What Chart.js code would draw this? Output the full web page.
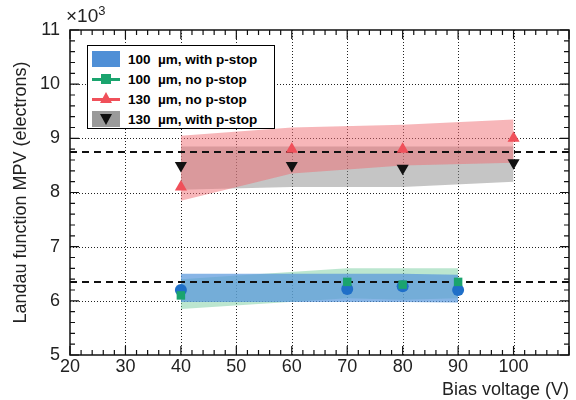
<!DOCTYPE html>
<html>
<head>
<meta charset="utf-8">
<script src="https://cdn.jsdelivr.net/npm/chart.js@4/dist/chart.umd.min.js"></script>
<style>
  body { margin: 0; background: #fff; }
  #wrap { position: relative; width: 576px; height: 400px; }
  #legend {
    position: absolute; left: 87px; top: 45px; width: 188px; height: 84px;
    background: #fff; border: 1.5px solid #000; box-sizing: border-box;
    font-family: "Liberation Sans", Arial, sans-serif; font-weight: bold; font-size: 13.5px;
    padding: 3px 0 0 4px;
  }
  .row { display: flex; align-items: center; height: 20px; white-space: pre; }
  .sw { position: relative; width: 28px; height: 16px; margin-right: 8px; }
  #mult { position: absolute; left: 66px; top: 3px; font-family: "Liberation Sans", Arial, sans-serif; font-size: 19px; color: #222; }
  #mult sup { font-size: 13px; }
</style>
</head>
<body>
<div id="wrap">
  <canvas id="c" width="576" height="400"></canvas>
  <div id="mult">×10<sup>3</sup></div>
  <div id="legend">
    <div class="row"><span class="sw" style="background:#4f8fd6"></span>100  µm, with p-stop</div>
    <div class="row"><span class="sw"><span style="position:absolute;left:0;top:7px;width:28px;height:3px;background:#1aa46e"></span><span style="position:absolute;left:9px;top:3px;width:10px;height:10px;background:#1aa46e"></span></span>100  µm, no p-stop</div>
    <div class="row"><span class="sw"><span style="position:absolute;left:0;top:7px;width:28px;height:3px;background:#f0505a"></span><span style="position:absolute;left:8px;top:1px;width:0;height:0;border-left:6px solid transparent;border-right:6px solid transparent;border-bottom:11px solid #f0505a"></span></span>130  µm, no p-stop</div>
    <div class="row"><span class="sw" style="background:#9a9a9a"><span style="position:absolute;left:8px;top:3px;width:0;height:0;border-left:6px solid transparent;border-right:6px solid transparent;border-top:11px solid #111"></span></span>130  µm, with p-stop</div>
  </div>
</div>
<script>
// voltages (V)
const volts100 = [40, 70, 80, 90];
const volts130 = [40, 60, 80, 100];

// MPV values, x10^3 electrons
const mpv100PStop = [6.2, 6.22, 6.27, 6.2];
const mpv100NoPStop = [6.1, 6.35, 6.3, 6.35];
const mpv130NoPStop = [8.1, 8.8, 8.8, 9.0];
const mpv130PStop = [8.5, 8.5, 8.45, 8.55];

// uncertainty bands (high / low)
const band100PStopHi = [6.5, 6.5, 6.5, 6.48];
const band100PStopLo = [5.98, 5.98, 5.98, 5.97];
const band100NoPStopHi = [6.4, 6.6, 6.6, 6.6];
const band100NoPStopLo = [5.85, 6.05, 6.02, 6.05];
const band130NoPStopHi = [9.05, 9.2, 9.25, 9.35];
const band130NoPStopLo = [7.85, 8.35, 8.5, 8.55];
const band130PStopHi = [8.85, 8.85, 8.85, 8.85];
const band130PStopLo = [8.05, 8.1, 8.1, 8.2];

// average lines
const avgX = [20, 110];
const avg100 = [6.35, 6.35];
const avg130 = [8.75, 8.75];

const xTicks = [20, 30, 40, 50, 60, 70, 80, 90, 100];
const yTicks = [5, 6, 7, 8, 9, 10, 11];

const pts = (xs, ys) => xs.map((x, i) => ({ x: x, y: ys[i] }));

function band(xs, hi, lo, color, order) {
    return [
        { data: pts(xs, hi), showLine: true, pointRadius: 0, borderWidth: 0, fill: false, order: order },
        { data: pts(xs, lo), showLine: true, pointRadius: 0, borderWidth: 0, fill: '-1', backgroundColor: color, order: order }
    ];
}

function markers(xs, ys, color, style, size, rot) {
    return {
        data: pts(xs, ys), showLine: false, pointStyle: style, pointRadius: size,
        pointRotation: rot || 0, backgroundColor: color, borderColor: color, borderWidth: 0, order: 0
    };
}

function dashed(ys) {
    return {
        data: pts(avgX, ys), showLine: true, pointRadius: 0, borderColor: '#111',
        borderWidth: 2, borderDash: [7, 5], fill: false, order: 1
    };
}

// frame, dotted grid and inward ticks
const frame = {
    id: 'frame',
    beforeDatasetsDraw(chart) {
        const { ctx, chartArea: a, scales: { x, y } } = chart;
        ctx.save();
        ctx.strokeStyle = '#222';
        ctx.lineWidth = 1;
        ctx.setLineDash([1, 2]);
        xTicks.slice(1).forEach(v => {
            const px = Math.round(x.getPixelForValue(v)) + 0.5;
            ctx.beginPath(); ctx.moveTo(px, a.top); ctx.lineTo(px, a.bottom); ctx.stroke();
        });
        yTicks.slice(1, -1).forEach(v => {
            const py = Math.round(y.getPixelForValue(v)) + 0.5;
            ctx.beginPath(); ctx.moveTo(a.left, py); ctx.lineTo(a.right, py); ctx.stroke();
        });
        ctx.restore();
    },
    afterDatasetsDraw(chart) {
        const { ctx, chartArea: a, scales: { x, y } } = chart;
        ctx.save();
        ctx.strokeStyle = '#111';
        ctx.lineWidth = 1.5;
        ctx.strokeRect(a.left, a.top, a.right - a.left, a.bottom - a.top);
        ctx.lineWidth = 1.2;
        for (let v = 20; v <= 110; v += 2) {
            const px = x.getPixelForValue(v);
            const len = v % 10 === 0 ? 9 : 5;
            ctx.beginPath();
            ctx.moveTo(px, a.bottom); ctx.lineTo(px, a.bottom - len);
            ctx.moveTo(px, a.top); ctx.lineTo(px, a.top + len);
            ctx.stroke();
        }
        for (let i = 0; i <= 30; i++) {
            const v = 5 + i * 0.2;
            const py = y.getPixelForValue(v);
            const len = i % 5 === 0 ? 9 : 5;
            ctx.beginPath();
            ctx.moveTo(a.left, py); ctx.lineTo(a.left + len, py);
            ctx.moveTo(a.right, py); ctx.lineTo(a.right - len, py);
            ctx.stroke();
        }
        ctx.restore();
    }
};

const font = { family: '"Liberation Sans", Arial, sans-serif', size: 18 };

new Chart(document.getElementById('c'), {
    type: 'line',
    data: {
        datasets: [
            markers(volts130, mpv130PStop, '#111', 'triangle', 7, 180),
            markers(volts130, mpv130NoPStop, '#f0505a', 'triangle', 7),
            markers(volts100, mpv100NoPStop, '#1aa46e', 'rect', 6),
            markers(volts100, mpv100PStop, '#1f6fc8', 'circle', 6),
            dashed(avg130),
            dashed(avg100),
            ...band(volts130, band130NoPStopHi, band130NoPStopLo, 'rgba(240,110,115,0.5)', 2),
            ...band(volts130, band130PStopHi, band130PStopLo, 'rgba(140,140,140,0.5)', 3),
            ...band(volts100, band100PStopHi, band100PStopLo, 'rgba(85,150,220,0.7)', 4),
            ...band(volts100, band100NoPStopHi, band100NoPStopLo, 'rgba(120,205,160,0.5)', 5)
        ]
    },
    options: {
        responsive: false,
        animation: false,
        layout: { padding: { top: 30, right: 5 } },
        plugins: { legend: { display: false }, tooltip: { enabled: false } },
        scales: {
            x: {
                type: 'linear', min: 20, max: 110,
                afterFit(s) { s.height = 45; },
                afterBuildTicks(s) { s.ticks = xTicks.map(v => ({ value: v })); },
                grid: { display: false },
                border: { display: false },
                ticks: { font: font, color: '#222', padding: -7, maxRotation: 0 },
                title: { display: true, text: 'Bias voltage (V)', align: 'end', font: { family: font.family, size: 18 }, color: '#222', padding: { top: 0, bottom: -1 } }
            },
            y: {
                type: 'linear', min: 5, max: 11,
                afterFit(s) { s.width = 70; },
                afterBuildTicks(s) { s.ticks = yTicks.map(v => ({ value: v })); },
                grid: { display: false },
                border: { display: false },
                ticks: { font: font, color: '#222', padding: 2 },
                title: { display: true, text: 'Landau function MPV (electrons)', font: { family: font.family, size: 18 }, color: '#222', padding: { top: 10, bottom: 0 } }
            }
        }
    },
    plugins: [frame]
});
</script>
</body>
</html>
